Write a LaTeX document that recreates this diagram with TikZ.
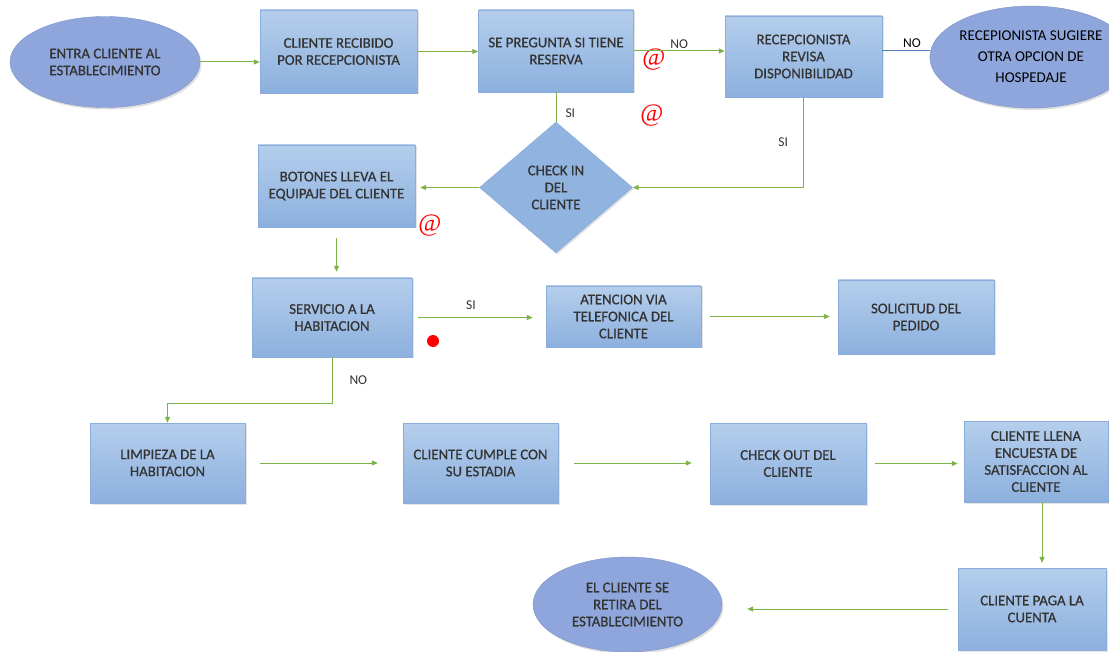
\documentclass[tikz,border=0pt]{standalone}
\usepackage{fontspec}
\setmainfont{Carlito}
\newfontfamily\boxfont{Carlito}[FakeBold=0.6]
\newfontfamily\atfont{Liberation Serif}
\usepackage{xcolor}
\usetikzlibrary{arrows.meta, positioning, shapes.geometric, shadows}

\definecolor{boxtop}{HTML}{B5CEEC}
\definecolor{boxbot}{HTML}{8CB0DE}
\definecolor{boxline}{HTML}{8AAED9}
\definecolor{ovalfill}{HTML}{8EA6DC}
\definecolor{ovalline}{HTML}{7B93CB}
\definecolor{flowgreen}{HTML}{7DB249}
\definecolor{txtgray}{HTML}{333333}
\definecolor{linkblue}{HTML}{4F81BD}

\begin{document}
\begin{tikzpicture}[
  x=1pt, y=-1pt,
  proc/.style={rectangle, draw=boxline, top color=boxtop, bottom color=boxbot,
    text=txtgray, align=center, inner sep=2pt, font=\boxfont\fontsize{14.8}{17}\selectfont,
    drop shadow={opacity=0.2, shadow xshift=1.5pt, shadow yshift=-1.5pt}},
  oval/.style={ellipse, draw=ovalline, fill=ovalfill, text=txtgray, align=center,
    inner sep=0pt, font=\boxfont\fontsize{14.8}{17}\selectfont,
    drop shadow={opacity=0.25, shadow xshift=1.5pt, shadow yshift=-2pt}},
  decision/.style={diamond, draw=boxline, fill=boxbot!90!boxtop, text=txtgray,
    align=center, inner sep=0pt, font=\boxfont\fontsize{14.8}{17}\selectfont,
    drop shadow={opacity=0.2, shadow xshift=1.5pt, shadow yshift=-1.5pt}},
  flow/.style={draw=flowgreen, line width=1pt, -{Triangle[length=6pt, width=5pt]}},
  plain/.style={draw=flowgreen, line width=1pt},
  tag/.style={font=\fontsize{13.5}{15}\selectfont, text=txtgray, inner sep=1pt},
  redmark/.style={font=\atfont\fontsize{25}{25}\selectfont, text=red, inner sep=0pt}
]
\fill[white] (0,0) rectangle (1109,652);
\clip (0,0) rectangle (1109,652);

% first row
\node[oval, minimum width=190pt, minimum height=91pt] (entra) at (105,62) {ENTRA CLIENTE AL\\ESTABLECIMIENTO};
\node[proc, minimum width=157pt, minimum height=83pt] (recibido) at (338.5,51.5) {CLIENTE RECIBIDO\\POR RECEPCIONISTA};
\node[proc, minimum width=155pt, minimum height=82pt] (pregunta) at (556,51) {SE PREGUNTA SI TIENE\\RESERVA};
\node[proc, minimum width=157pt, minimum height=81pt] (revisa) at (803.5,56.5) {RECEPCIONISTA\\REVISA\\DISPONIBILIDAD};
\node[oval, minimum width=178pt, minimum height=102pt, text=black,
  font=\fontsize{15}{21}\selectfont] (sugiere) at (1031,57) {RECEPIONISTA SUGIERE\\OTRA OPCION DE\\HOSPEDAJE};

% check in
\node[decision, minimum width=153pt, minimum height=131pt] (checkin) at (556,187.5) {CHECK IN\\DEL\\CLIENTE};
\node[proc, minimum width=157pt, minimum height=82pt] (botones) at (336.5,186) {BOTONES LLEVA EL\\EQUIPAJE DEL CLIENTE};

% room service
\node[proc, minimum width=160pt, minimum height=79pt] (servicio) at (332,317.5) {SERVICIO A LA\\HABITACION};
\node[proc, minimum width=155pt, minimum height=61pt] (atencion) at (623.5,316.5) {ATENCION VIA\\TELEFONICA DEL\\CLIENTE};
\node[proc, minimum width=156pt, minimum height=74pt] (solicitud) at (916,317) {SOLICITUD DEL\\PEDIDO};

% stay and check out
\node[proc, minimum width=155pt, minimum height=80pt] (limpieza) at (167.5,463) {LIMPIEZA DE LA\\HABITACION};
\node[proc, minimum width=155pt, minimum height=80pt] (cumple) at (480.5,463) {CLIENTE CUMPLE CON\\SU ESTADIA};
\node[proc, minimum width=156pt, minimum height=81pt] (checkout) at (788,463.5) {CHECK OUT DEL\\CLIENTE};
\node[proc, minimum width=144pt, minimum height=81pt] (llena) at (1036,461.5) {CLIENTE LLENA\\ENCUESTA DE\\SATISFACCION AL\\CLIENTE};
\node[proc, minimum width=148pt, minimum height=82pt] (paga) at (1032,609) {CLIENTE PAGA LA\\CUENTA};
\node[oval, minimum width=189pt, minimum height=95pt] (retira) at (627.5,604.5) {EL CLIENTE SE\\RETIRA DEL\\ESTABLECIMIENTO};

% red marks
\node[redmark] (arrA) at (654,60) {@};
\node[redmark] (arrB) at (652,116) {@};
\node[redmark] (arrC) at (430,226) {@};
\node[circle, fill=red, minimum size=12pt, inner sep=0pt] (punto) at (433,341) {};

% connectors
\draw[flow] (entra.east) -- (entra.east -| recibido.west);
\draw[flow] (recibido.east) -- (recibido.east -| pregunta.west);
\draw[flow] (pregunta.east) -- (pregunta.east -| revisa.west) node[tag, midway, above=1pt] {NO};
\draw[draw=linkblue, line width=1pt] ([yshift=6pt]revisa.east) -- ([yshift=6pt]revisa.east -| sugiere.west)
  node[tag, text=black, midway, above=1pt, xshift=6pt] {NO};
\draw[plain] (pregunta.south) -- (checkin.north) node[tag, pos=0.7, right=8pt] {SI};
\draw[flow] (revisa.south) |- (checkin.east) node[tag, pos=0.25, left=14pt] {SI};
\draw[flow, shorten >=5pt] (checkin.west) -- (checkin.west -| botones.east);
\draw[flow, shorten <=11pt, shorten >=6pt] (botones.south) -- (botones.south |- servicio.north);
\draw[flow, shorten <=6pt, shorten >=13pt] (servicio.east) -- (servicio.east -| atencion.west)
  node[tag, midway, above=6pt, xshift=-8pt] {SI};
\draw[flow, shorten <=9pt, shorten >=8pt] (atencion.east) -- (atencion.east -| solicitud.west);
\draw[flow] (servicio.south) -- node[tag, right=16pt] {NO} ++(0,46) -| (limpieza.north);
\draw[flow, shorten <=15pt, shorten >=25pt] (limpieza.east) -- (limpieza.east -| cumple.west);
\draw[flow, shorten <=16pt, shorten >=18pt] (cumple.east) -- (cumple.east -| checkout.west);
\draw[flow, shorten <=9pt, shorten >=6pt] (checkout.east) -- (checkout.east -| llena.west);
\draw[flow, shorten >=5pt] ([xshift=6pt]llena.south) -- ([xshift=6pt]llena.south |- paga.north);
\draw[flow, shorten <=10pt, shorten >=25pt] (paga.west) -- (paga.west -| retira.east);
\end{tikzpicture}
\end{document}
